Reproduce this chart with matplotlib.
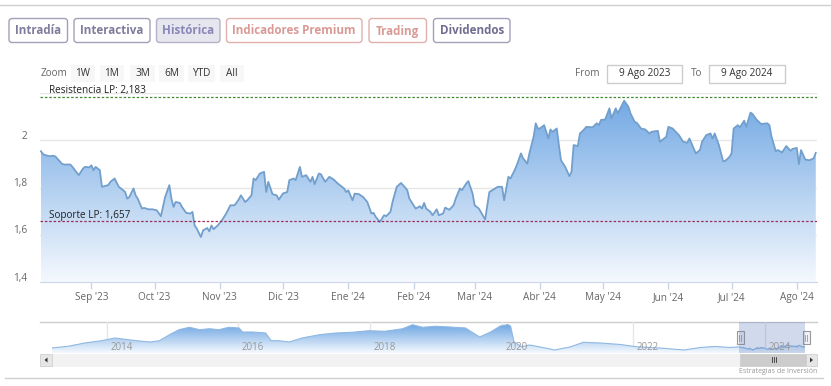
import matplotlib
matplotlib.use("Agg")
import matplotlib.pyplot as plt
import matplotlib.dates as mdates
from matplotlib.patches import FancyBboxPatch, Rectangle, Polygon
from matplotlib.colors import LinearSegmentedColormap
import numpy as np
import pandas as pd

plt.rcParams['font.family'] = ['Open Sans', 'DejaVu Sans']

# --- main series (Aug 2023 - Aug 2024) ---
dates = [
    "2023-08-08", "2023-08-09", "2023-08-10", "2023-08-12", "2023-08-14", "2023-08-15",
    "2023-08-18", "2023-08-19", "2023-08-22", "2023-08-23", "2023-08-26", "2023-08-28",
    "2023-08-29", "2023-08-31", "2023-09-01", "2023-09-02", "2023-09-03", "2023-09-05",
    "2023-09-06", "2023-09-09", "2023-09-10", "2023-09-12", "2023-09-14", "2023-09-16",
    "2023-09-17", "2023-09-18", "2023-09-19", "2023-09-21", "2023-09-22", "2023-09-23",
    "2023-09-25", "2023-09-26", "2023-09-28", "2023-09-30", "2023-10-02", "2023-10-04",
    "2023-10-06", "2023-10-08", "2023-10-09", "2023-10-10", "2023-10-11", "2023-10-13",
    "2023-10-14", "2023-10-16", "2023-10-18", "2023-10-19", "2023-10-20", "2023-10-21",
    "2023-10-23", "2023-10-24", "2023-10-26", "2023-10-27", "2023-10-28", "2023-10-29",
    "2023-10-31", "2023-11-02", "2023-11-04", "2023-11-06", "2023-11-08", "2023-11-10",
    "2023-11-11", "2023-11-13", "2023-11-14", "2023-11-16", "2023-11-17", "2023-11-18",
    "2023-11-20", "2023-11-22", "2023-11-23", "2023-11-24", "2023-11-26", "2023-11-28",
    "2023-11-29", "2023-12-01", "2023-12-03", "2023-12-04", "2023-12-06", "2023-12-07",
    "2023-12-09", "2023-12-10", "2023-12-12", "2023-12-14", "2023-12-15", "2023-12-16",
    "2023-12-18", "2023-12-19", "2023-12-21", "2023-12-23", "2023-12-25", "2023-12-27",
    "2023-12-30", "2023-12-31", "2024-01-01", "2024-01-03", "2024-01-04", "2024-01-06",
    "2024-01-08", "2024-01-10", "2024-01-12", "2024-01-13", "2024-01-14", "2024-01-16",
    "2024-01-18", "2024-01-19", "2024-01-21", "2024-01-22", "2024-01-24", "2024-01-26",
    "2024-01-27", "2024-01-29", "2024-01-30", "2024-02-01", "2024-02-02", "2024-02-04",
    "2024-02-05", "2024-02-06", "2024-02-07", "2024-02-09", "2024-02-10", "2024-02-12",
    "2024-02-13", "2024-02-15", "2024-02-16", "2024-02-18", "2024-02-20", "2024-02-21",
    "2024-02-23", "2024-02-24", "2024-02-26", "2024-02-27", "2024-02-29", "2024-03-01",
    "2024-03-03", "2024-03-06", "2024-03-07", "2024-03-08", "2024-03-10", "2024-03-12",
    "2024-03-14", "2024-03-15", "2024-03-17", "2024-03-18", "2024-03-20", "2024-03-21",
    "2024-03-23", "2024-03-24", "2024-03-26", "2024-03-27", "2024-03-29", "2024-03-30",
    "2024-03-31", "2024-04-01", "2024-04-03", "2024-04-05", "2024-04-06", "2024-04-07",
    "2024-04-09", "2024-04-10", "2024-04-11", "2024-04-13", "2024-04-15", "2024-04-16",
    "2024-04-17", "2024-04-19", "2024-04-20", "2024-04-22", "2024-04-23", "2024-04-26",
    "2024-04-28", "2024-04-29", "2024-04-30", "2024-05-02", "2024-05-04", "2024-05-05",
    "2024-05-07", "2024-05-08", "2024-05-11", "2024-05-13", "2024-05-14", "2024-05-16",
    "2024-05-17", "2024-05-19", "2024-05-21", "2024-05-23", "2024-05-24", "2024-05-27",
    "2024-05-28", "2024-05-30", "2024-05-31", "2024-06-01", "2024-06-03", "2024-06-06",
    "2024-06-08", "2024-06-10", "2024-06-11", "2024-06-12", "2024-06-14", "2024-06-16",
    "2024-06-17", "2024-06-19", "2024-06-21", "2024-06-22", "2024-06-23", "2024-06-25",
    "2024-06-27", "2024-06-28", "2024-06-30", "2024-07-01", "2024-07-02", "2024-07-04",
    "2024-07-05", "2024-07-07", "2024-07-08", "2024-07-10", "2024-07-11", "2024-07-13",
    "2024-07-14", "2024-07-15", "2024-07-18", "2024-07-19", "2024-07-20", "2024-07-22",
    "2024-07-23", "2024-07-25", "2024-07-27", "2024-07-29", "2024-07-30", "2024-08-01",
    "2024-08-02", "2024-08-03", "2024-08-05", "2024-08-07", "2024-08-09", "2024-08-10",
]
prices = [
    1.953, 1.941, 1.937, 1.932, 1.934, 1.930, 1.900, 1.897, 1.897, 1.887, 1.852, 1.880,
    1.887, 1.885, 1.894, 1.873, 1.887, 1.873, 1.803, 1.810, 1.824, 1.838, 1.803, 1.789,
    1.781, 1.753, 1.760, 1.796, 1.767, 1.753, 1.711, 1.714, 1.708, 1.708, 1.704, 1.679,
    1.760, 1.810, 1.753, 1.718, 1.739, 1.735, 1.718, 1.693, 1.690, 1.697, 1.640, 1.627,
    1.591, 1.619, 1.629, 1.615, 1.640, 1.624, 1.640, 1.662, 1.690, 1.725, 1.725, 1.750,
    1.767, 1.739, 1.746, 1.767, 1.838, 1.831, 1.859, 1.866, 1.781, 1.824, 1.772, 1.767,
    1.749, 1.775, 1.781, 1.831, 1.838, 1.831, 1.887, 1.845, 1.852, 1.824, 1.845, 1.814,
    1.859, 1.856, 1.824, 1.845, 1.834, 1.817, 1.796, 1.781, 1.788, 1.746, 1.774, 1.772,
    1.760, 1.739, 1.690, 1.693, 1.676, 1.655, 1.683, 1.679, 1.697, 1.739, 1.803, 1.819,
    1.810, 1.789, 1.753, 1.725, 1.711, 1.721, 1.711, 1.735, 1.711, 1.697, 1.683, 1.708,
    1.683, 1.690, 1.715, 1.706, 1.725, 1.753, 1.796, 1.789, 1.817, 1.827, 1.775, 1.725,
    1.711, 1.665, 1.725, 1.781, 1.792, 1.803, 1.803, 1.746, 1.845, 1.838, 1.873, 1.894,
    1.944, 1.923, 1.901, 1.944, 2.014, 2.071, 2.049, 2.049, 2.063, 2.007, 2.045, 2.035,
    2.049, 1.979, 1.915, 1.887, 1.848, 1.866, 1.979, 1.975, 2.028, 2.045, 2.056, 2.054,
    2.071, 2.063, 2.085, 2.087, 2.134, 2.092, 2.134, 2.113, 2.166, 2.141, 2.113, 2.077,
    2.073, 2.049, 2.045, 2.028, 2.035, 2.039, 1.993, 2.007, 2.014, 2.056, 2.049, 2.021,
    1.993, 1.989, 2.007, 1.986, 1.944, 1.958, 1.993, 2.021, 2.028, 2.007, 2.028, 1.979,
    1.911, 1.912, 1.929, 1.944, 2.049, 2.063, 2.054, 2.082, 2.056, 2.116, 2.110, 2.085,
    2.077, 2.068, 2.071, 2.063, 2.014, 1.953, 1.958, 1.948, 1.975, 1.955, 1.963, 1.967,
    1.899, 1.958, 1.918, 1.915, 1.923, 1.946,
]

resistencia = 2.183
soporte = 1.657

month_ticks = ["2023-09-01", "2023-10-01", "2023-11-01", "2023-12-01", "2024-01-01",
               "2024-02-01", "2024-03-01", "2024-04-01", "2024-05-01", "2024-06-01",
               "2024-07-01", "2024-08-01"]
month_labels = ["Sep '23", "Oct '23", "Nov '23", "Dic '23", "Ene '24", "Feb '24",
                "Mar '24", "Abr '24", "May '24", "Jun '24", "Jul '24", "Ago '24"]
y_ticks = [1.4, 1.6, 1.8, 2.0]
y_labels = ["1,4", "1,6", "1,8", "2"]

# --- navigator (long history) ---
nav_dates = ["2013-03-01", "2013-06-01", "2013-09-01", "2013-12-01", "2014-02-15",
             "2014-05-01", "2014-07-15", "2014-09-01", "2014-10-20", "2014-12-15",
             "2015-02-05", "2015-04-05", "2015-06-01", "2015-07-25", "2015-09-15",
             "2015-11-10", "2016-01-05", "2016-01-25", "2016-03-20", "2016-06-01",
             "2016-07-01", "2016-08-15", "2016-10-10", "2016-12-20", "2017-03-25",
             "2017-06-25", "2017-09-25", "2017-12-25", "2018-03-25", "2018-07-01",
             "2018-08-25", "2018-10-20", "2019-01-01", "2019-03-20", "2019-06-15",
             "2019-09-01", "2019-11-01", "2019-12-25", "2020-02-05", "2020-02-20",
             "2020-03-10", "2020-04-20", "2020-06-05", "2020-08-30", "2020-10-20",
             "2021-01-15", "2021-03-30", "2021-07-01", "2021-10-20", "2022-01-15",
             "2022-05-30", "2022-10-10", "2023-01-10", "2023-04-01", "2023-06-20"]
nav_values = [1.82, 2.01, 2.37, 2.62, 2.92, 2.73, 2.56, 2.48, 2.62, 3.28,
              3.83, 4.10, 3.83, 3.94, 3.83, 4.10, 4.02, 3.58, 3.58, 3.47,
              2.62, 2.62, 2.48, 2.92, 3.28, 3.47, 3.55, 3.72, 3.66, 3.94,
              4.38, 4.10, 4.21, 4.13, 4.02, 3.03, 3.58, 4.24, 4.40, 4.24,
              2.51, 1.96, 2.15, 1.82, 1.60, 1.93, 2.45, 2.37, 2.21, 1.96,
              1.82, 1.60, 1.88, 1.99, 1.88]
nav_years = ["2014", "2016", "2018", "2020", "2022", "2024"]

tabs = ["Intradía", "Interactiva", "Histórica", "Indicadores Premium", "Trading", "Dividendos"]
zoom_buttons = ["1W", "1M", "3M", "6M", "YTD", "All"]

W, H = 831, 386
fig = plt.figure(figsize=(W / 100, H / 100), dpi=100)
fig.patch.set_facecolor('white')

# background axes in pixel coords for page chrome
bg = fig.add_axes([0, 0, 1, 1], zorder=0)
bg.set_xlim(0, W)
bg.set_ylim(H, 0)
bg.axis('off')

bg.plot([0, W], [5, 5], color='#d0d0d0', lw=1)
bg.plot([5, 823], [377.5, 377.5], color='#d0d0d0', lw=1)

# tabs
tab_x = [(9, 67.5), (74, 150), (156.5, 220), (226.5, 362), (369, 426.5), (433.5, 510)]
tab_edge = ['#a3a0ba', '#a3a0ba', '#b4b2c8', '#e0b0ad', '#e0b0ad', '#a3a0ba']
tab_face = ['white', 'white', '#e6e6ee', 'white', 'white', 'white']
tab_text = ['#7f7c9c', '#7f7c9c', '#8a87b8', '#d99a96', '#d99a96', '#716e91']
for name, (x0, x1), ec, fc, tc in zip(tabs, tab_x, tab_edge, tab_face, tab_text):
    bg.add_patch(FancyBboxPatch((x0, 18.5), x1 - x0, 24, boxstyle="round,pad=0,rounding_size=3",
                                fc=fc, ec=ec, lw=1))
    bg.text((x0 + x1) / 2, 31, name, ha='center', va='center', fontsize=8.4,
            fontweight='bold', color=tc)

# range selector
bg.text(40.5, 74, "Zoom", ha='left', va='center', fontsize=7.2, color='#666666')
btn_x = [(71, 95), (100, 124), (130, 155), (159, 184), (188, 215), (220, 244)]
for lbl, (x0, x1) in zip(zoom_buttons, btn_x):
    bg.add_patch(Rectangle((x0, 65), x1 - x0, 17, fc='#f7f7f7', ec='none'))
    bg.text((x0 + x1) / 2, 73.5, lbl, ha='center', va='center', fontsize=7.2, color='#333333')

bg.text(600, 73.5, "From", ha='right', va='center', fontsize=7.2, color='#666666')
bg.add_patch(Rectangle((607, 65), 75, 17.5, fc='white', ec='#cccccc', lw=1))
bg.text(644.5, 73.5, "9 Ago 2023", ha='center', va='center', fontsize=7.2, color='#333333')
bg.text(702, 73.5, "To", ha='right', va='center', fontsize=7.2, color='#666666')
bg.add_patch(Rectangle((709, 65), 75.5, 17.5, fc='white', ec='#cccccc', lw=1))
bg.text(746.7, 73.5, "9 Ago 2024", ha='center', va='center', fontsize=7.2, color='#333333')

# --- main chart ---
x = pd.to_datetime(dates)
y = np.array(prices)
ymin, ymax = 1.4, 2.2
ax = fig.add_axes([40 / W, (H - 282.3) / H, 777 / W, (282.3 - 92.7) / H], zorder=2)
ax.patch.set_alpha(0)

for v in [1.6, 1.8, 2.0, 2.2]:
    ax.axhline(v, color='#e6e6e6', lw=1, zorder=0)

cmap = LinearSegmentedColormap.from_list('fade', [(0.96, 0.975, 0.995), (0.43, 0.65, 0.89)])
poly = ax.fill_between(x, y, ymin, facecolor='none', edgecolor='none')
xn = mdates.date2num(x)
grad = np.linspace(0, 1, 256).reshape(-1, 1)
im = ax.imshow(grad, cmap=cmap, aspect='auto', origin='lower',
               extent=[xn[0], xn[-1], ymin, ymax], zorder=1)
im.set_clip_path(poly.get_paths()[0], transform=ax.transData)
ax.plot(x, y, color='#729fcc', lw=1.3, zorder=3)

ax.axhline(resistencia, color='#3f8a2e', lw=0.9, ls=(0, (2, 1.5)), zorder=4)
ax.axhline(soporte, color='#9b2d5a', lw=0.9, ls=(0, (2, 1.5)), zorder=4)
ax.annotate("Resistencia LP: " + f"{resistencia:.3f}".replace('.', ','),
            xy=(9 / 777, resistencia), xycoords=('axes fraction', 'data'),
            xytext=(0, 1), textcoords='offset pixels', ha='left', va='bottom',
            fontsize=7.2, color='#222222', zorder=5)
ax.annotate("Soporte LP: " + f"{soporte:.3f}".replace('.', ','),
            xy=(9 / 777, soporte), xycoords=('axes fraction', 'data'),
            xytext=(0, 0), textcoords='offset pixels', ha='left', va='bottom',
            fontsize=7.2, color='#222222', zorder=5)

ax.set_xlim(pd.Timestamp("2023-08-07 14:00"), pd.Timestamp("2024-08-10 14:00"))
ax.set_ylim(ymin, ymax)
ax.set_xticks(pd.to_datetime(month_ticks))
ax.set_xticklabels(month_labels, fontsize=7.2, color='#666666')
ax.tick_params(axis='x', length=5, width=1, color='#ccd6eb', pad=2)
ax.set_yticks([])
for v, lbl in zip(y_ticks, y_labels):
    ax.annotate(lbl, xy=(0, v), xycoords=('axes fraction', 'data'), xytext=(-13, 4),
                textcoords='offset pixels', ha='right', va='center', fontsize=7.2,
                color='#666666')
for s in ['top', 'left', 'right']:
    ax.spines[s].set_visible(False)
ax.spines['bottom'].set_color('#ccd6eb')

# --- navigator ---
nx = pd.to_datetime(nav_dates + dates[1:])
ny = np.array(nav_values + prices[1:])
nlo, nhi = 1.27, 4.68
axn = fig.add_axes([52 / W, (H - 353) / H, 753 / W, 31 / H], zorder=2)
axn.patch.set_alpha(0)
for yr in nav_years:
    axn.axvline(pd.Timestamp(yr + "-01-01"), color='#e6e6e6', lw=1, zorder=0)
    axn.text(pd.Timestamp(yr + "-01-01") + pd.Timedelta(days=20), 0.18, yr,
             transform=axn.get_xaxis_transform(), ha='left', va='center',
             fontsize=7, color='#999999', zorder=5)
npoly = axn.fill_between(nx, ny, nlo, facecolor='none', edgecolor='none')
nxn = mdates.date2num(nx)
nim = axn.imshow(grad, cmap=cmap, aspect='auto', origin='lower',
                 extent=[nxn[0], nxn[-1], nlo, 4.4], zorder=1)
nim.set_clip_path(npoly.get_paths()[0], transform=axn.transData)
axn.plot(nx, ny, color='#8fb8e3', lw=0.8, zorder=3)
axn.axvspan(pd.Timestamp("2023-08-09"), pd.Timestamp("2024-08-11"), color=(0.4, 0.52, 0.76), alpha=0.3,
            lw=0, zorder=4)
axn.set_xlim(pd.Timestamp("2013-03-03"), pd.Timestamp("2024-08-11"))
axn.set_ylim(nlo, nhi)
axn.axis('off')

bg.plot([40, 817], [322, 322], color='#cccccc', lw=1)

# navigator handles
for hx in [740, 806]:
    bg.add_patch(Rectangle((hx - 3.5, 331), 7, 13, fc='#f2f2f2', ec='#999999', lw=0.8, zorder=5))
    bg.plot([hx - 1, hx - 1], [334.5, 340.5], color='#999999', lw=0.6, zorder=6)
    bg.plot([hx + 1, hx + 1], [334.5, 340.5], color='#999999', lw=0.6, zorder=6)

# scrollbar
bg.add_patch(Rectangle((40, 354), 777, 12, fc='#f2f2f2', ec='#f2f2f2', lw=0.5))
bg.add_patch(Rectangle((740, 354), 66, 12, fc='#cccccc', ec='#cccccc', lw=0.5))
for gx in [772, 774, 776]:
    bg.plot([gx, gx], [357, 362], color='#333333', lw=0.6)
bg.add_patch(Rectangle((40, 354), 12, 12, fc='#e6e6e6', ec='#cccccc', lw=0.5))
bg.add_patch(Rectangle((806, 354), 11, 12, fc='#e6e6e6', ec='#cccccc', lw=0.5))
bg.add_patch(Polygon([[47.5, 357.5], [47.5, 362.5], [44.5, 360]], closed=True, fc='#333333', ec='none'))
bg.add_patch(Polygon([[810, 357.5], [810, 362.5], [813, 360]], closed=True, fc='#333333', ec='none'))

bg.text(817, 371.5, "Estrategias de Inversión", ha='right', va='center', fontsize=5, color='#999999')

fig.savefig("out.png", dpi=100, facecolor='white')
